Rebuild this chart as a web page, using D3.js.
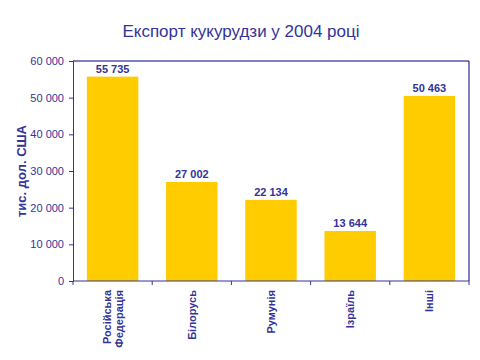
<!DOCTYPE html>
<html>
<head>
<meta charset="utf-8">
<script src="https://cdn.jsdelivr.net/npm/d3@7"></script>
<style>
  body { margin: 0; background: #fff; }
  text { font-family: "Liberation Sans", Arial, sans-serif; }
</style>
</head>
<body>
<svg id="chart"></svg>
<script>
const categories = [["Російська", "Федерація"], ["Білорусь"], ["Румунія"], ["Ізраїль"], ["Інші"]];
const values = [55735, 27002, 22134, 13644, 50463];
const yTicks = [0, 10000, 20000, 30000, 40000, 50000, 60000];

const W = 480, H = 360;
const margin = { top: 61, right: 11, bottom: 79, left: 73 };
const textColor = "#333399";

const svg = d3.select("#chart").attr("width", W).attr("height", H);

const x = d3.scaleBand()
  .domain(d3.range(values.length))
  .range([margin.left, W - margin.right])
  .paddingInner(0.35)
  .paddingOuter(0.175);

const y = d3.scaleLinear().domain([0, 60000]).range([H - margin.bottom, margin.top]);

const fmt = v => d3.format(",")(v).replace(/,/g, " ");

// frame: top and right
svg.append("path")
  .attr("d", `M${margin.left},${margin.top}H${W - margin.right}V${H - margin.bottom}`)
  .attr("fill", "none")
  .attr("stroke", "#000080")
  .attr("stroke-width", 1);

// bars
svg.selectAll("rect.bar")
  .data(values)
  .enter()
  .append("rect")
  .attr("class", "bar")
  .attr("x", (d, i) => x(i))
  .attr("width", x.bandwidth())
  .attr("y", d => y(d))
  .attr("height", d => y(0) - y(d))
  .attr("fill", "#FFCC00");

// value labels
svg.selectAll("text.val")
  .data(values)
  .enter()
  .append("text")
  .attr("class", "val")
  .attr("x", (d, i) => x(i) + x.bandwidth() / 2)
  .attr("y", d => y(d) - 4)
  .attr("text-anchor", "middle")
  .attr("fill", textColor)
  .style("font-size", "11px")
  .style("font-weight", "bold")
  .text(d => fmt(d));

// y axis
const yAxis = svg.append("g")
  .attr("transform", `translate(${margin.left},0)`)
  .call(d3.axisLeft(y).tickValues(yTicks).tickSize(4).tickPadding(5).tickFormat(fmt));
yAxis.select(".domain").attr("stroke", textColor);
yAxis.selectAll(".tick line").attr("stroke", textColor);
yAxis.selectAll(".tick text")
  .attr("fill", textColor)
  .style("font-size", "11px")
  .style("font-family", "'Liberation Sans', Arial, sans-serif");

// x axis line + ticks at category boundaries
const bounds = d3.range(values.length + 1).map(i => margin.left + i * (W - margin.right - margin.left) / values.length);
svg.append("line")
  .attr("x1", margin.left).attr("x2", W - margin.right)
  .attr("y1", y(0)).attr("y2", y(0))
  .attr("stroke", textColor);
svg.selectAll("line.xt")
  .data(bounds)
  .enter()
  .append("line")
  .attr("class", "xt")
  .attr("x1", d => d).attr("x2", d => d)
  .attr("y1", y(0)).attr("y2", y(0) + 4)
  .attr("stroke", textColor);

// x labels, rotated
categories.forEach((lines, i) => {
  const cx = x(i) + x.bandwidth() / 2;
  const t = svg.append("text")
    .attr("transform", `translate(${cx},${y(0) + 9}) rotate(-90)`)
    .attr("text-anchor", "end")
    .attr("fill", textColor)
    .style("font-size", "11px")
    .style("font-weight", "bold");
  const n = lines.length;
  lines.forEach((s, j) => {
    t.append("tspan")
      .attr("x", 0)
      .attr("y", (j - (n - 1) / 2) * 12 + 4)
      .text(s);
  });
});

// y axis title
svg.append("text")
  .attr("transform", `translate(26,${(margin.top + H - margin.bottom) / 2}) rotate(-90)`)
  .attr("text-anchor", "middle")
  .attr("fill", textColor)
  .style("font-size", "13px")
  .style("font-weight", "bold")
  .text("тис. дол. США");

// title
svg.append("text")
  .attr("x", 241)
  .attr("y", 37)
  .attr("text-anchor", "middle")
  .attr("fill", textColor)
  .style("font-size", "17px")
  .text("Експорт кукурудзи у 2004 році");
</script>
</body>
</html>
